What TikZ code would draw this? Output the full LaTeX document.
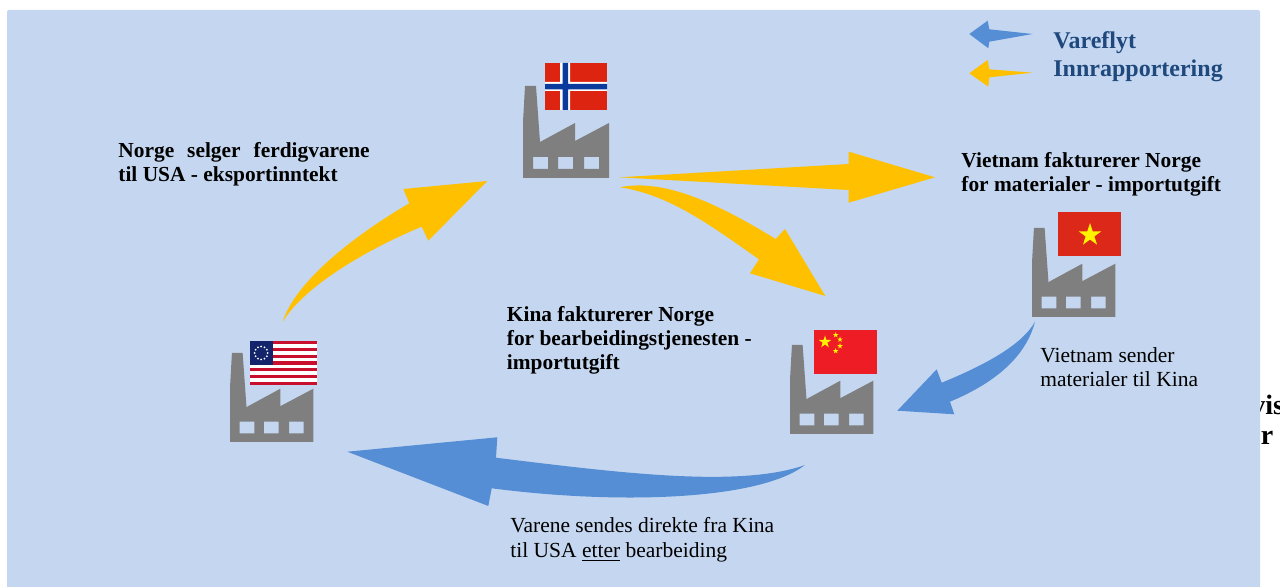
\documentclass[tikz,border=0pt]{standalone}
\usepackage{fontspec}
\setmainfont{Liberation Serif}
\usepackage{xcolor}
\usetikzlibrary{shapes.geometric,positioning}
\definecolor{panelblue}{HTML}{C5D7F0}
\definecolor{flowblue}{HTML}{558ED5}
\definecolor{reportyellow}{HTML}{FFC000}
\definecolor{factorygrey}{HTML}{7F7F7F}
\definecolor{legendblue}{HTML}{1F497D}
\definecolor{norred}{HTML}{DC2410}
\definecolor{norblue}{HTML}{0A3A9C}
\definecolor{usared}{HTML}{C8102E}
\definecolor{usablue}{HTML}{13246B}
\definecolor{vnred}{HTML}{DC2818}
\definecolor{cnred}{HTML}{EE1C25}

\begin{document}
\begin{tikzpicture}[
    x=0.5pt, y=-0.5pt,
    flagbox/.style={rectangle, inner sep=0pt, minimum width=31.5pt, minimum height=22pt, anchor=north west},
    flagstar/.style={star, star points=5, star point ratio=2.618, fill=yellow, inner sep=0pt},
    flow/.style={fill=flowblue},
    report/.style={fill=reportyellow},
    boldlabel/.style={anchor=west, inner sep=0pt, align=left, font=\fontsize{10.7}{12}\selectfont\bfseries},
    plainlabel/.style={anchor=west, inner sep=0pt, align=left, font=\fontsize{10.75}{12.3}\selectfont},
    legendlabel/.style={anchor=west, inner sep=0pt, align=left, text=legendblue, font=\fontsize{12}{14}\selectfont\bfseries},
    cutlabel/.style={anchor=west, inner sep=0pt, font=\fontsize{14}{16}\selectfont\bfseries},
    factory/.pic={
        \fill[factorygrey, even odd rule] (0,0) -- (0,-56) -- (2,-92) -- (13,-92) -- (17,-36) -- (52,-55) -- (52,-37) -- (86,-55) -- (86,0) -- cycle
            (10,-21) rectangle (25,-9) (35,-21) rectangle (50,-9) (61,-21) rectangle (76,-9);
    }
]
    \useasboundingbox (0,0) rectangle (1280,587);

    % Cut off text behind the panel
    \node[cutlabel] (cutvis) at (1251,405) {vis};
    \node[cutlabel] (cuter) at (1248,438) {er};

    % Panel
    \fill[panelblue, rounded corners=1pt] (7,10) rectangle (1260,590);

    % Factories
    \pic at (523,178) {factory};
    \pic[scale=.97] at (230,442) {factory};
    \pic[scale=.97] at (1032,317) {factory};
    \pic[scale=.97] at (790,434) {factory};

    % Norway flag
    \node[flagbox, fill=norred, minimum width=31pt, minimum height=23.5pt] (noflag) at (545,63) {};
    \fill[white] (560,63) rectangle (570,110) (545,82) rectangle (607,91);
    \fill[norblue] (562.5,63) rectangle (568,110) (545,84) rectangle (607,89.5);

    % USA flag
    \node[flagbox, fill=white, minimum width=33.5pt] (usflag) at (250,341) {};
    \foreach \s in {0,2,...,12}
        \fill[usared] (250,341+\s*3.385) rectangle (317,341+\s*3.385+3.385);
    \fill[usablue] (250,341) rectangle (272.5,365);
    \foreach \a in {0,30,...,330}
        \fill[white] (261.2,353)+(\a:6.5) circle (1);

    % Vietnam flag
    \node[flagbox, fill=vnred, minimum width=31.5pt] (vnflag) at (1058,212) {};
    \node[flagstar, minimum size=12pt] (vnstar) at (1090,235) {};

    % China flag
    \node[flagbox, fill=cnred, minimum width=31.5pt] (cnflag) at (814,330) {};
    \node[flagstar, minimum size=6.5pt] (cnstar) at (825,342) {};
    \node[flagstar, minimum size=3pt] (cnstara) at (835.7,335) {};
    \node[flagstar, minimum size=3pt] (cnstarb) at (840,339.5) {};
    \node[flagstar, minimum size=3pt] (cnstarc) at (840,346) {};
    \node[flagstar, minimum size=3pt] (cnstard) at (835.7,351) {};

    % Arrow ends
    \coordinate (usout) at (282.7,321.7);
    \coordinate (noin) at (487.3,181);
    \coordinate (novnout) at (619.3,177.3);
    \coordinate (vnin) at (935,177.3);
    \coordinate (nocnout) at (620,187.3);
    \coordinate (cnin) at (825.3,296);
    \coordinate (vnout) at (1035,321.7);
    \coordinate (cnfrom) at (897.3,410.7);
    \coordinate (cnout) at (805,465);
    \coordinate (usin) at (347.3,451.7);

    % Arrows
    \fill[report] (usout) .. controls (295,283) and (350,238) .. (409.3,203.3) -- (403.3,189) -- (noin) -- (428.3,240.7) -- (421.7,226.7) .. controls (370,248) and (305,285) .. (usout) -- cycle;
    \fill[report] (novnout) -- (848.7,164) -- (848.7,151.7) -- (vnin) -- (848.7,202.7) -- (848.7,190) -- cycle;
    \fill[report] (nocnout) .. controls (665,178) and (720,205) .. (775.7,239) -- (785,229) -- (cnin) -- (750,273.3) -- (759,259.3) .. controls (710,225) and (670,195) .. (nocnout) -- cycle;
    \fill[flow] (vnout) .. controls (1025,360) and (990,385) .. (950,401.7) -- (954.3,414.3) -- (cnfrom) -- (936.7,369.3) -- (941.7,382.7) .. controls (985,365) and (1022,345) .. (vnout) -- cycle;
    \fill[flow] (cnout) .. controls (740,488) and (620,473) .. (496,457.7) -- (497.3,437.3) -- (usin) -- (488.3,506) -- (491.7,488.3) .. controls (620,505) and (760,500) .. (cnout) -- cycle;

    % Legend
    \coordinate (keyblue) at (969.3,34);
    \coordinate (keyyellow) at (969.3,73.3);
    \fill[flow] (keyblue) -- (987.7,20.7) -- (989.3,29.3) -- (1032.7,34) -- (989.3,41.7) -- (988.3,48.3) -- cycle;
    \fill[report] (keyyellow) -- (987.7,60) -- (989.3,69.3) -- (1032.7,72.7) -- (989.3,77.3) -- (988.3,86.7) -- cycle;
    \node[legendlabel] (keytext) at (1053,57) {Vareflyt\\Innrapportering};

    % Labels
    \node[boldlabel] (salelabel) at (118,164) {Norge\hspace{3.8pt} selger\hspace{3.8pt} ferdigvarene\\til USA - eksportinntekt};
    \node[boldlabel] (vnlabel) at (961,174) {Vietnam fakturerer Norge\\for materialer - importutgift};
    \node[boldlabel] (cnlabel) at (506.5,340) {Kina fakturerer Norge\\for bearbeidingstjenesten -\\importutgift};
    \node[plainlabel] (vnsend) at (1040,367) {Vietnam sender\\materialer til Kina};
    \node[plainlabel] (cnsend) at (510,540) {Varene sendes direkte fra Kina\\til USA \underline{etter} bearbeiding};
\end{tikzpicture}
\end{document}
